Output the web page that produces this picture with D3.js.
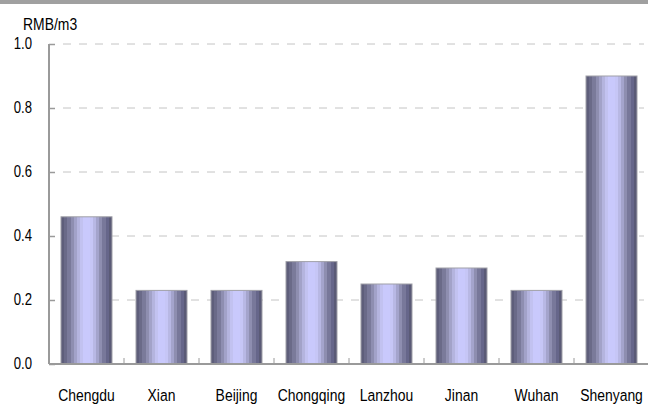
<!DOCTYPE html>
<html>
<head>
<meta charset="utf-8">
<script src="https://cdn.jsdelivr.net/npm/d3@7"></script>
<style>
  html, body { margin: 0; padding: 0; background: #fff; }
  svg { display: block; }
</style>
</head>
<body>
<svg id="chart" width="648" height="404"></svg>
<script>
// Price per cubic metre by city
const cities = ["Chengdu", "Xian", "Beijing", "Chongqing", "Lanzhou", "Jinan", "Wuhan", "Shenyang"];
const prices = [0.46, 0.23, 0.23, 0.32, 0.25, 0.30, 0.23, 0.90];
const yTicks = [0.0, 0.2, 0.4, 0.6, 0.8, 1.0];
const unitLabel = "RMB/m3";

const svg = d3.select("#chart");
const W = 648, H = 404;
const plotLeft = 49, plotRight = 649, plotTop = 44, plotBottom = 364;
const font = "'Liberation Sans', Arial, sans-serif";
const squeeze = 0.82; // condensed lettering

// header strip
svg.append("rect").attr("x", 0).attr("y", 0).attr("width", W).attr("height", 4).attr("fill", "#a0a0a0");

const x = d3.scaleBand().domain(cities).range([plotLeft, plotRight]).paddingInner(0.32).paddingOuter(0.16);
const y = d3.scaleLinear().domain([0, 1]).range([plotBottom, plotTop]);

// stepped cylinder shading, light band slightly left of centre
const shades = ["#5e5e7a", "#6a6a88", "#7a7a9a", "#8e8eb0", "#a2a2c8", "#b4b4de", "#c2c2f0",
                "#c9c9fc", "#c9c9fc", "#c6c6f6", "#b8b8e4", "#a4a4cc", "#8e8eb0", "#78789a", "#66668a", "#5a5a76"];
const grad = svg.append("defs").append("linearGradient").attr("id", "barShade")
  .attr("x1", "0").attr("x2", "1").attr("y1", "0").attr("y2", "0");
shades.forEach((c, i) => {
  const a = i / shades.length, b = (i + 1) / shades.length;
  grad.append("stop").attr("offset", a).attr("stop-color", c);
  grad.append("stop").attr("offset", b).attr("stop-color", c);
});

// dashed gridlines
svg.append("g").selectAll("line").data(yTicks.filter(d => d > 0)).join("line")
  .attr("x1", plotLeft + 14).attr("x2", 644)
  .attr("y1", d => y(d)).attr("y2", d => y(d))
  .attr("stroke", "#c4c4c4").attr("stroke-width", 1)
  .attr("stroke-dasharray", "8,8");

// bars
svg.append("g").selectAll("rect").data(prices).join("rect")
  .attr("x", (d, i) => x(cities[i]))
  .attr("y", d => y(d))
  .attr("width", x.bandwidth())
  .attr("height", d => plotBottom - y(d))
  .attr("fill", "url(#barShade)")
  .attr("stroke", "#a0a0a8").attr("stroke-width", 1);

// y axis
const yAxis = d3.axisRight(y).tickValues(yTicks).tickSize(6).tickFormat("");
const gy = svg.append("g").attr("transform", `translate(${plotLeft},0)`).call(yAxis);
gy.select(".domain").attr("stroke", "#9a9a9a").attr("stroke-width", 2).attr("d", `M0,${plotTop}V${plotBottom}`);
gy.selectAll(".tick line").attr("stroke", "#9a9a9a").attr("stroke-width", 1.5);

svg.append("g").selectAll("text").data(yTicks).join("text")
  .attr("transform", d => `translate(32,${y(d) + 5}) scale(${squeeze},1)`)
  .attr("text-anchor", "end")
  .attr("font-family", font).attr("font-size", 16).attr("fill", "#000")
  .text(d => d3.format(".1f")(d));

// x axis with boundary ticks
svg.append("line").attr("x1", plotLeft).attr("x2", W).attr("y1", plotBottom).attr("y2", plotBottom)
  .attr("stroke", "#9a9a9a").attr("stroke-width", 2);
svg.append("g").selectAll("line").data(cities.slice(1)).join("line")
  .attr("x1", d => x(d) - x.step() * x.paddingInner() / 2)
  .attr("x2", d => x(d) - x.step() * x.paddingInner() / 2)
  .attr("y1", plotBottom).attr("y2", plotBottom - 6)
  .attr("stroke", "#9a9a9a").attr("stroke-width", 1);

svg.append("g").selectAll("text").data(cities).join("text")
  .attr("transform", d => `translate(${x(d) + x.bandwidth() / 2},401) scale(${squeeze},1)`)
  .attr("text-anchor", "middle")
  .attr("font-family", font).attr("font-size", 17).attr("fill", "#000")
  .text(d => d);

// unit label
svg.append("text").attr("transform", `translate(23,30) scale(${squeeze},1)`)
  .attr("font-family", font).attr("font-size", 17).attr("fill", "#000")
  .text(unitLabel);
</script>
</body>
</html>
